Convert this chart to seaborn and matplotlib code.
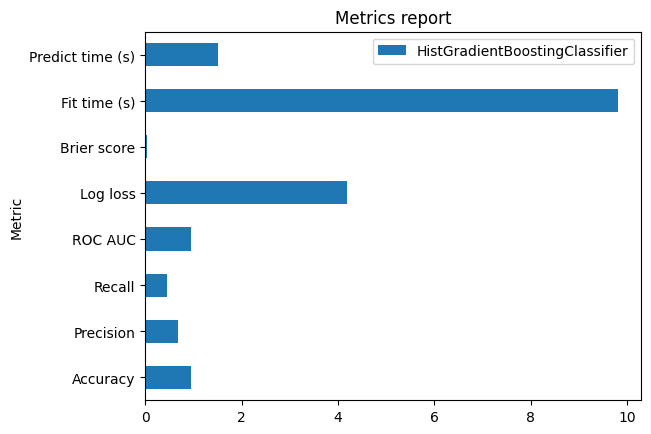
import pandas as pd
import matplotlib.pyplot as plt
import seaborn as sns

metrics = ["Predict time (s)", "Fit time (s)", "Brier score", "Log loss",
           "ROC AUC", "Recall", "Precision", "Accuracy"]
values = [1.50, 9.80, 0.03, 4.19, 0.94, 0.46, 0.67, 0.94]
model = "HistGradientBoostingClassifier"

df = pd.DataFrame({"Metric": metrics, "value": values, "model": model})

fig = plt.figure(figsize=(6.51, 4.35), dpi=100)
ax = fig.add_axes([0.2232, 0.0775, 0.985 - 0.2232, 0.925 - 0.0775])
sns.barplot(data=df, y="Metric", x="value", hue="model", orient="h",
            palette=["#1f77b4"], saturation=1, width=0.5, ax=ax)
ax.set_xlim(0, 9.8 * 1.05)
ax.set_ylim(len(metrics) - 0.5, -0.5)
ax.set_xlabel("")
ax.set_ylabel("Metric")
ax.set_title("Metrics report")
ax.legend(loc="upper right", title=None)
fig.savefig("out.png", dpi=100)
